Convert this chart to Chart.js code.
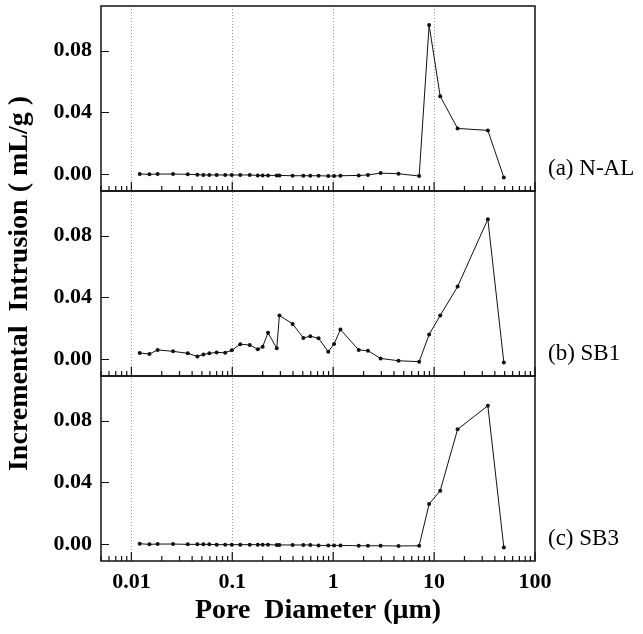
<!DOCTYPE html>
<html>
<head>
<meta charset="utf-8">
<script src="https://cdn.jsdelivr.net/npm/chart.js@4.4.0/dist/chart.umd.min.js"></script>
<style>
  html, body { margin: 0; padding: 0; background: #fff; }
  #wrap { width: 643px; height: 634px; }
</style>
</head>
<body>
<div id="wrap"><canvas id="poreChart" width="643" height="634"></canvas></div>
<script>
  // pore diameter steps (µm), same for all three samples
  const diameters = [0.0121, 0.0151, 0.0182, 0.0259, 0.0362, 0.0451, 0.0517, 0.0592, 0.0700, 0.0851,
    0.0990, 0.120, 0.149, 0.179, 0.200, 0.226, 0.276, 0.293, 0.396, 0.506,
    0.593, 0.716, 0.893, 1.02, 1.18, 1.79, 2.21, 2.95, 4.44, 7.11,
    8.93, 11.5, 17.1, 34.1, 49.1];

  // incremental intrusion (mL/g)
  const nAl = [0, -0.0002, 0, 0, -0.0002, -0.0004, -0.0006, -0.0006, -0.0006, -0.0006,
    -0.0006, -0.0006, -0.0006, -0.0009, -0.0009, -0.0009, -0.0009, -0.0009, -0.0011, -0.0011,
    -0.0011, -0.0011, -0.0013, -0.0013, -0.0011, -0.0009, -0.0006, 0.0006, 0.0002, -0.0013,
    0.0966, 0.0504, 0.0296, 0.0283, -0.0022];
  const sb1 = [0.0039, 0.0033, 0.0059, 0.0050, 0.0037, 0.0017, 0.0030, 0.0037, 0.0043, 0.0041,
    0.0057, 0.0096, 0.0091, 0.0063, 0.0080, 0.0170, 0.0070, 0.0283, 0.0228, 0.0137,
    0.0148, 0.0135, 0.0048, 0.0098, 0.0191, 0.0059, 0.0054, 0.0004, -0.0011, -0.0017,
    0.0159, 0.0283, 0.0470, 0.0907, -0.0022];
  const sb3 = [0.0002, -0.0002, 0, 0, -0.0002, -0.0002, -0.0002, -0.0002, -0.0004, -0.0004,
    -0.0004, -0.0004, -0.0004, -0.0004, -0.0004, -0.0004, -0.0006, -0.0006, -0.0006, -0.0006,
    -0.0006, -0.0009, -0.0009, -0.0009, -0.0009, -0.0011, -0.0011, -0.0011, -0.0013, -0.0011,
    0.0260, 0.0346, 0.0744, 0.0897, -0.0022];

  const xTicks = [0.01, 0.1, 1, 10, 100];
  const yTicks = [0, 0.04, 0.08];
  const panelLabels = ['(a) N-AL', '(b) SB1', '(c) SB3'];
  const panelIds = ['y1', 'y2', 'y3'];

  const serif = "'Liberation Serif', 'Times New Roman', serif";
  const tickFont = { family: serif, size: 22, weight: 'bold' };
  const titleFont = { family: serif, size: 28, weight: 'bold' };

  function makeSet(values, axisId) {
    return {
      data: diameters.map((d, i) => ({ x: d, y: values[i] })),
      yAxisID: axisId,
      borderColor: '#111',
      borderWidth: 1,
      pointRadius: 2,
      pointBackgroundColor: '#111',
      pointBorderWidth: 0,
      tension: 0
    };
  }

  function panelAxis(weight, title) {
    return {
      type: 'linear',
      position: 'left',
      stack: 'panels',
      stackWeight: 1,
      weight: weight,
      min: -0.011,
      max: 0.109,
      grid: { display: false, drawTicks: false },
      border: { display: false },
      afterBuildTicks: s => { s.ticks = yTicks.map(v => ({ value: v })); },
      ticks: { callback: v => v.toFixed(2), font: tickFont, color: '#000', padding: 9 },
      title: { display: !!title, text: title || '', font: titleFont, color: '#000', padding: { top: 3, bottom: 0 } },
      afterFit: s => { s.width = 101; s.paddingTop = 0; s.paddingBottom = 0; }
    };
  }

  // frames, inner ticks, dotted decade lines and panel names
  const panelFrame = {
    id: 'panelFrame',
    beforeDatasetsDraw(chart) {
      const ctx = chart.ctx, x = chart.scales.x, area = chart.chartArea;
      ctx.save();
      ctx.strokeStyle = '#999';
      ctx.lineWidth = 1;
      ctx.setLineDash([1, 2]);
      xTicks.slice(0, -1).forEach(v => {
        const px = Math.round(x.getPixelForValue(v)) + 0.5;
        ctx.beginPath();
        ctx.moveTo(px, area.top);
        ctx.lineTo(px, area.bottom);
        ctx.stroke();
      });
      ctx.restore();
    },
    afterDatasetsDraw(chart) {
      const ctx = chart.ctx, x = chart.scales.x, area = chart.chartArea;
      ctx.save();
      ctx.strokeStyle = '#111';
      ctx.fillStyle = '#000';
      panelIds.forEach((id, i) => {
        const s = chart.scales[id];
        ctx.lineWidth = 1.5;
        ctx.strokeRect(area.left, s.top, area.right - area.left, s.bottom - s.top);

        ctx.lineWidth = 1.2;
        ctx.beginPath();
        for (let e = -3; e <= 2; e++) {
          for (let k = 1; k <= 9; k++) {
            const v = k * Math.pow(10, e);
            if (v < x.min * 0.999 || v > x.max * 1.001) continue;
            const px = x.getPixelForValue(v);
            const len = k === 1 ? 9 : 5;
            ctx.moveTo(px, s.bottom);
            ctx.lineTo(px, s.bottom - len);
          }
        }
        yTicks.forEach(v => {
          const py = Math.round(s.getPixelForValue(v)) + 0.5;
          ctx.moveTo(area.left, py);
          ctx.lineTo(area.left + 8, py);
        });
        ctx.stroke();

        ctx.font = "23px " + serif;
        ctx.textAlign = 'left';
        ctx.textBaseline = 'middle';
        ctx.fillText(panelLabels[i], area.right + 13, s.getPixelForValue(0) - 5);
      });
      ctx.restore();
    }
  };

  new Chart(document.getElementById('poreChart'), {
    type: 'line',
    data: {
      datasets: [makeSet(nAl, 'y1'), makeSet(sb1, 'y2'), makeSet(sb3, 'y3')]
    },
    options: {
      responsive: false,
      animation: false,
      layout: { padding: { left: 0, top: 6, right: 108, bottom: 0 } },
      plugins: { legend: { display: false }, tooltip: { enabled: false } },
      scales: {
        x: {
          type: 'logarithmic',
          min: 0.005,
          max: 100,
          grid: { display: false, drawTicks: false },
          border: { display: false },
          afterBuildTicks: s => { s.ticks = xTicks.map(v => ({ value: v })); },
          ticks: { callback: v => String(v), font: tickFont, color: '#000', padding: 8, maxRotation: 0, autoSkip: false },
          title: { display: true, text: 'Pore  Diameter (\u03bcm)', font: titleFont, color: '#000', padding: { top: 0, bottom: 6 } },
          afterFit: s => { s.height = 73; }
        },
        y1: panelAxis(3),
        y2: panelAxis(2, 'Incremental  Intrusion ( mL/g )'),
        y3: panelAxis(1)
      }
    },
    plugins: [panelFrame]
  });
</script>
</body>
</html>
